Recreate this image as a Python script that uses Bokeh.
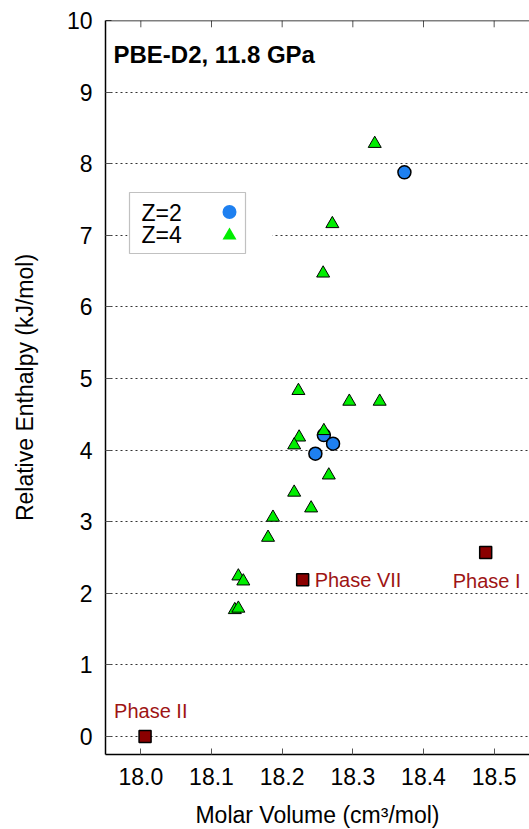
from bokeh.plotting import figure
from bokeh.models import (Range1d, FixedTicker, Label, BoxAnnotation, Span,
                          NumeralTickFormatter)
from bokeh.embed import file_html
from bokeh.resources import INLINE

# ---- data ----
z2_x = [18.373, 18.247, 18.259, 18.272]
z2_y = [7.88, 3.95, 4.21, 4.09]

z4_x = [18.331, 18.271, 18.258, 18.223, 18.295, 18.338, 18.259, 18.224, 18.217,
        18.266, 18.217, 18.241, 18.187, 18.180, 18.138, 18.145, 18.133, 18.138]
z4_y = [8.28, 7.16, 6.47, 4.83, 4.68, 4.68, 4.27, 4.18, 4.07,
        3.65, 3.41, 3.19, 3.06, 2.78, 2.24, 2.17, 1.77, 1.79]

phase_x = [18.006, 18.229, 18.488]
phase_y = [0.0, 2.19, 2.57]
phase_labels = ["Phase II", "Phase VII", "Phase I"]

x_ticks = [18.0, 18.1, 18.2, 18.3, 18.4, 18.5]
y_ticks = [0, 1, 2, 3, 4, 5, 6, 7, 8, 9, 10]

legend_labels = ["Z=2", "Z=4"]
title_text = "PBE-D2, 11.8 GPa"

X_MIN, X_MAX = 17.95, 18.55
Y_MIN, Y_MAX = -0.25, 10.0

# ---- layout / style ----
FRAME_W, FRAME_H = 424, 734
FONT = "Liberation Sans"
BLUE = "#1e80f0"
GREEN = "#00ee00"
DARKRED = "#8b0000"
TXTRED = "#9e1414"

p = figure(frame_width=FRAME_W, frame_height=FRAME_H, output_backend="svg",
           toolbar_location=None,
           x_range=Range1d(X_MIN, X_MAX), y_range=Range1d(Y_MIN, Y_MAX),
           min_border_left=105, min_border_right=0, min_border_top=20,
           min_border_bottom=75,
           x_axis_label="Molar Volume (cm³/mol)",
           y_axis_label="Relative Enthalpy (kJ/mol)")
p.outline_line_color = None
p.background_fill_color = "white"
p.border_fill_color = "white"

# axes
xa = p.xaxis[0]
xa.ticker = FixedTicker(ticks=x_ticks)
xa.formatter = NumeralTickFormatter(format="0.0")
ya = p.yaxis[0]
ya.ticker = FixedTicker(ticks=y_ticks)
ya.formatter = NumeralTickFormatter(format="0")
for ax in (xa, ya):
    ax.major_tick_in = 6
    ax.major_tick_out = 0
    ax.minor_tick_line_color = None
    ax.axis_line_width = 1.5
    ax.axis_line_color = "black"
    ax.major_tick_line_color = "#555555"
    ax.major_label_text_font = FONT
    ax.major_label_text_font_size = "23px"
    ax.major_label_text_color = "black"
    ax.axis_label_text_font = FONT
    ax.axis_label_text_font_size = "23px"
    ax.axis_label_text_font_style = "normal"
    ax.axis_label_text_color = "black"
xa.major_label_standoff = 13
xa.axis_label_standoff = 14
ya.major_label_standoff = 13
ya.axis_label_standoff = 26

# top border line with inward ticks (mirror of the bottom axis)
p.add_layout(Span(location=Y_MAX, dimension="width", line_color="black", line_width=1.5))
p.segment(x0=x_ticks, y0=[Y_MAX] * len(x_ticks), x1=x_ticks,
          y1=[Y_MAX - 0.095] * len(x_ticks), line_color="#555555", line_width=1)

p.xgrid.visible = False
p.ygrid.ticker = FixedTicker(ticks=y_ticks)
p.ygrid.grid_line_color = "#333333"
p.ygrid.grid_line_dash = "2 3"
p.ygrid.grid_line_width = 1

# data glyphs
p.scatter(z2_x, z2_y, marker="circle", size=13, fill_color=BLUE,
          line_color="black", line_width=1.5)
p.scatter(z4_x, z4_y, marker="triangle", size=13, fill_color=GREEN,
          line_color="black", line_width=1)
p.scatter(phase_x, phase_y, marker="square", size=12, fill_color=DARKRED,
          line_color="black", line_width=1.5)

# phase labels
offsets = [(-31, 26), (12, 0), (-33, -28)]
for xv, yv, txt, (dx, dy) in zip(phase_x, phase_y, phase_labels, offsets):
    p.add_layout(Label(x=xv, y=yv, x_offset=dx, y_offset=dy, text=txt,
                       text_font=FONT, text_font_size="20px", text_color=TXTRED,
                       text_baseline="middle"))

# title
p.add_layout(Label(x=8, y=700, x_units="screen", y_units="screen", text=title_text,
                   text_font=FONT, text_font_size="24px", text_font_style="bold",
                   text_color="black", text_baseline="alphabetic"))

# legend box (gnuplot style: text on the left, sample on the right)
def sx_to_x(px):  # frame-relative pixel -> data x
    return X_MIN + px / FRAME_W * (X_MAX - X_MIN)

def sy_to_y(px):  # frame-relative pixel (from bottom) -> data y
    return Y_MIN + px / FRAME_H * (Y_MAX - Y_MIN)

p.add_layout(BoxAnnotation(left=22, right=167, bottom=501, top=562,
                           left_units="screen", right_units="screen",
                           top_units="screen", bottom_units="screen",
                           fill_color="white", fill_alpha=1, line_color=None))
p.add_layout(BoxAnnotation(left=24, right=140, bottom=501, top=562,
                           left_units="screen", right_units="screen",
                           top_units="screen", bottom_units="screen",
                           fill_alpha=0, line_color="#333333", line_width=1.2))
legend_rows = [542, 520]
p.scatter([sx_to_x(124)], [sy_to_y(542.5)], marker="circle", size=14,
          fill_color=BLUE, line_color=None, level="overlay")
p.scatter([sx_to_x(124)], [sy_to_y(519)], marker="triangle", size=14,
          fill_color=GREEN, line_color=None, level="overlay")
for txt, yv in zip(legend_labels, legend_rows):
    p.add_layout(Label(x=36, y=yv, x_units="screen", y_units="screen", text=txt,
                       text_font=FONT, text_font_size="23px", text_color="black",
                       text_baseline="middle"))

open("out.html", "w").write(file_html(p, INLINE))
